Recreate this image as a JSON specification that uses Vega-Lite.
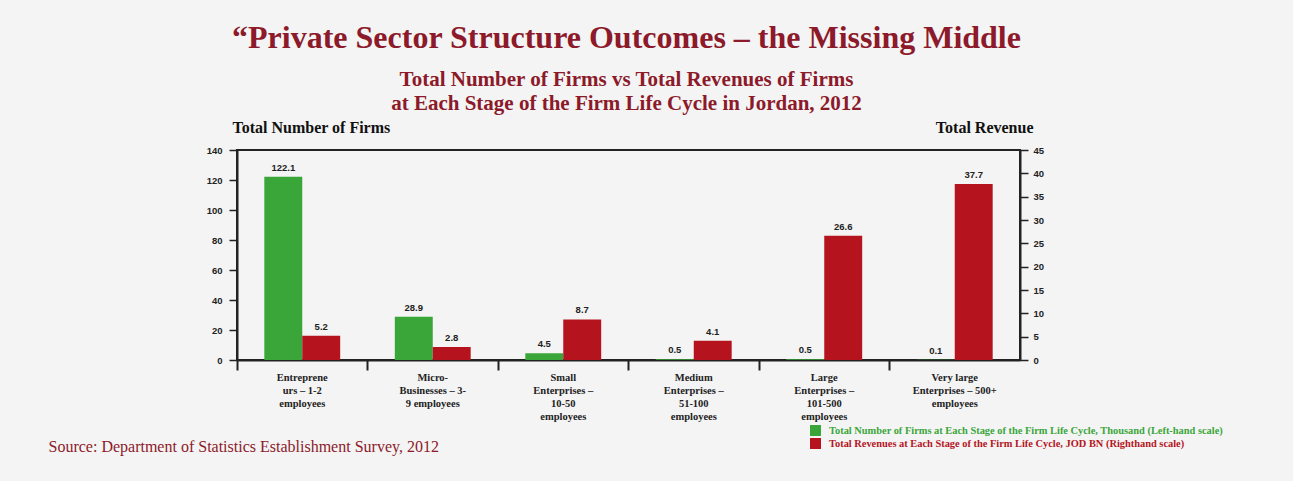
{
  "$schema": "https://vega.github.io/schema/vega-lite/v6.json",
  "autosize": {"type": "none"},
  "padding": {"left": 237, "top": 150, "right": 273, "bottom": 121},
  "width": 783,
  "height": 210,
  "background": "#f4f4f4",
  "title": {
    "text": "“Private Sector Structure Outcomes – the Missing Middle",
    "subtitle": ["Total Number of Firms vs Total Revenues of Firms", "at Each Stage of the Firm Life Cycle in Jordan, 2012"],
    "anchor": "middle",
    "dx": -2,
    "offset": 4,
    "font": "Liberation Serif",
    "fontSize": 32,
    "fontWeight": "bold",
    "color": "#8c1a2a",
    "subtitleFont": "Liberation Serif",
    "subtitleFontSize": 21,
    "subtitleFontWeight": "bold",
    "subtitleColor": "#8c1a2a",
    "subtitleLineHeight": 24,
    "subtitlePadding": 14
  },
  "config": {
    "view": {"stroke": "#222222", "strokeWidth": 2},
    "axis": {"grid": false}
  },
  "datasets": {
    "firms": [
      {"category": "Entreprene|urs – 1-2|employees", "series": "Total Number of Firms at Each Stage of the Firm Life Cycle, Thousand (Left-hand scale)", "value": 122.1},
      {"category": "Micro-|Businesses – 3-|9 employees", "series": "Total Number of Firms at Each Stage of the Firm Life Cycle, Thousand (Left-hand scale)", "value": 28.9},
      {"category": "Small|Enterprises –|10-50|employees", "series": "Total Number of Firms at Each Stage of the Firm Life Cycle, Thousand (Left-hand scale)", "value": 4.5},
      {"category": "Medium|Enterprises –|51-100|employees", "series": "Total Number of Firms at Each Stage of the Firm Life Cycle, Thousand (Left-hand scale)", "value": 0.5},
      {"category": "Large|Enterprises –|101-500|employees", "series": "Total Number of Firms at Each Stage of the Firm Life Cycle, Thousand (Left-hand scale)", "value": 0.5},
      {"category": "Very large|Enterprises – 500+|employees", "series": "Total Number of Firms at Each Stage of the Firm Life Cycle, Thousand (Left-hand scale)", "value": 0.1}
    ],
    "revenue": [
      {"category": "Entreprene|urs – 1-2|employees", "series": "Total Revenues at Each Stage of the Firm Life Cycle, JOD BN (Righthand scale)", "value": 5.2},
      {"category": "Micro-|Businesses – 3-|9 employees", "series": "Total Revenues at Each Stage of the Firm Life Cycle, JOD BN (Righthand scale)", "value": 2.8},
      {"category": "Small|Enterprises –|10-50|employees", "series": "Total Revenues at Each Stage of the Firm Life Cycle, JOD BN (Righthand scale)", "value": 8.7},
      {"category": "Medium|Enterprises –|51-100|employees", "series": "Total Revenues at Each Stage of the Firm Life Cycle, JOD BN (Righthand scale)", "value": 4.1},
      {"category": "Large|Enterprises –|101-500|employees", "series": "Total Revenues at Each Stage of the Firm Life Cycle, JOD BN (Righthand scale)", "value": 26.6},
      {"category": "Very large|Enterprises – 500+|employees", "series": "Total Revenues at Each Stage of the Firm Life Cycle, JOD BN (Righthand scale)", "value": 37.7}
    ]
  },
  "encoding": {
    "x": {
      "field": "category",
      "type": "nominal",
      "sort": null,
      "scale": {"paddingInner": 0, "paddingOuter": 0},
      "axis": {
        "title": "Source: Department of Statistics Establishment Survey, 2012",
        "titleX": -189,
        "titleY": 86,
        "titleAlign": "left",
        "titleBaseline": "middle",
        "titleFont": "Liberation Serif",
        "titleFontSize": 16,
        "titleFontWeight": "normal",
        "titleColor": "#8c1a2a",
        "labelExpr": "split(datum.label, '|')",
        "labelAngle": 0,
        "labelFont": "Liberation Serif",
        "labelFontSize": 10.5,
        "labelFontWeight": "bold",
        "labelColor": "#222222",
        "labelLineHeight": 13,
        "labelPadding": 2,
        "labelLimit": 200,
        "bandPosition": 0,
        "tickSize": 10,
        "tickWidth": 2,
        "tickColor": "#222222",
        "domainWidth": 2,
        "domainColor": "#222222"
      }
    },
    "xOffset": {
      "field": "series",
      "type": "nominal",
      "scale": {
        "domain": ["Total Number of Firms at Each Stage of the Firm Life Cycle, Thousand (Left-hand scale)", "Total Revenues at Each Stage of the Firm Life Cycle, JOD BN (Righthand scale)"],
        "paddingInner": 0,
        "paddingOuter": 0.72
      }
    },
    "color": {
      "field": "series",
      "type": "nominal",
      "scale": {
        "domain": ["Total Number of Firms at Each Stage of the Firm Life Cycle, Thousand (Left-hand scale)", "Total Revenues at Each Stage of the Firm Life Cycle, JOD BN (Righthand scale)"],
        "range": ["#3aa63a", "#b5141e"]
      },
      "legend": {
        "orient": "none",
        "legendX": 573,
        "legendY": 275,
        "title": null,
        "symbolType": "square",
        "symbolSize": 120,
        "symbolStrokeWidth": 0,
        "labelFont": "Liberation Serif",
        "labelFontSize": 10.4,
        "labelFontWeight": "bold",
        "labelLimit": 500,
        "rowPadding": 2,
        "labelOffset": 8,
        "encode": {
          "labels": {"update": {"fill": {"signal": "datum.index === 0 ? '#3aa63a' : '#b5141e'"}}}
        }
      }
    }
  },
  "layer": [
    {
      "data": {"name": "firms"},
      "encoding": {
        "y": {
          "field": "value",
          "type": "quantitative",
          "scale": {"domain": [0, 140], "nice": false},
          "axis": {
            "orient": "left",
            "values": [0, 20, 40, 60, 80, 100, 120, 140],
            "title": "Total Number of Firms",
            "titleAngle": 0,
            "titleX": -5,
            "titleY": -18,
            "titleAlign": "left",
            "titleBaseline": "alphabetic",
            "titleFont": "Liberation Serif",
            "titleFontSize": 16,
            "titleFontWeight": "bold",
            "titleColor": "#111111",
            "labelFont": "Liberation Sans",
            "labelFontSize": 9.5,
            "labelFontWeight": "bold",
            "labelColor": "#222222",
            "labelPadding": 7,
            "tickSize": 8,
            "tickWidth": 1.5,
            "tickColor": "#222222",
            "domainWidth": 2,
            "domainColor": "#222222"
          }
        }
      },
      "layer": [
        {"mark": {"type": "bar"}},
        {
          "mark": {"type": "text", "dy": -9, "font": "Liberation Sans", "fontSize": 9.5, "fontWeight": "bold", "color": "#222222"},
          "encoding": {"text": {"field": "value", "type": "quantitative", "format": ".1f"}, "color": {"value": "#222222"}}
        }
      ]
    },
    {
      "data": {"name": "revenue"},
      "encoding": {
        "y": {
          "field": "value",
          "type": "quantitative",
          "scale": {"domain": [0, 45], "nice": false},
          "axis": {
            "orient": "right",
            "values": [0, 5, 10, 15, 20, 25, 30, 35, 40, 45],
            "title": "Total Revenue",
            "titleAngle": 0,
            "titleX": 13,
            "titleY": -18,
            "titleAlign": "right",
            "titleBaseline": "alphabetic",
            "titleFont": "Liberation Serif",
            "titleFontSize": 16,
            "titleFontWeight": "bold",
            "titleColor": "#111111",
            "labelFont": "Liberation Sans",
            "labelFontSize": 9.5,
            "labelFontWeight": "bold",
            "labelColor": "#222222",
            "labelPadding": 5,
            "tickSize": 8,
            "tickWidth": 1.5,
            "tickColor": "#222222",
            "domainWidth": 2,
            "domainColor": "#222222"
          }
        }
      },
      "layer": [
        {"mark": {"type": "bar"}},
        {
          "mark": {"type": "text", "dy": -9, "font": "Liberation Sans", "fontSize": 9.5, "fontWeight": "bold", "color": "#222222"},
          "encoding": {"text": {"field": "value", "type": "quantitative", "format": ".1f"}, "color": {"value": "#222222"}}
        }
      ]
    }
  ],
  "resolve": {"scale": {"y": "independent"}}
}
